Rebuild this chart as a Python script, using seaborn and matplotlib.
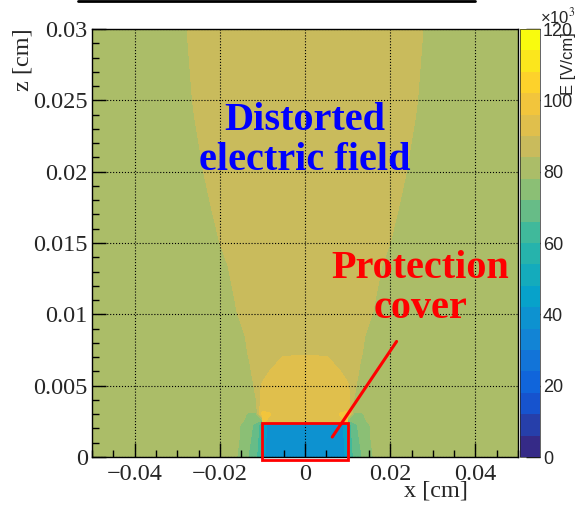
import numpy as np
import matplotlib
matplotlib.use("Agg")
import matplotlib.pyplot as plt
import seaborn as sns
from matplotlib.ticker import MultipleLocator
from matplotlib.patches import Rectangle
from matplotlib.lines import Line2D

# ── Field map (units of 10^3 V/cm) ───────────────────────────
# x positions for the right half (the map is mirror symmetric in x)
x_half = [0, 0.005, 0.0085, 0.0099, 0.0101, 0.0115, 0.013, 0.0155,
          0.018, 0.022, 0.026, 0.03, 0.05]
z_rows = [0, 0.0023, 0.0025, 0.003, 0.0035, 0.0045, 0.0058, 0.0069,
          0.0075, 0.0085, 0.01, 0.015, 0.02, 0.025, 0.03]

E_z0000 = [39, 39, 40, 43, 58, 67, 71, 77.5, 80, 81, 81, 81, 81]
E_z0023 = [40, 40, 41, 44, 62, 70, 74, 78.5, 81, 81, 81, 81, 81]
E_z0025 = [93, 93, 95, 97, 70, 74, 76, 79.5, 81, 81, 81, 81, 81]
E_z0030 = [92, 93, 96.5, 97.5, 97, 77, 77, 80, 81, 81, 81, 81, 81]
E_z0035 = [92, 93, 94, 94, 93.5, 83, 80, 80.5, 81, 81, 81, 81, 81]
E_z0045 = [92, 93, 93, 92.5, 92, 84.5, 81, 81, 81, 81, 81, 81, 81]
E_z0058 = [92, 92, 90.3, 88.5, 88, 86, 83, 81, 81, 81, 81, 81, 81]
E_z0069 = [91, 90.5, 88, 87.5, 87.5, 87, 84.2, 81.5, 81, 81, 81, 81, 81]
E_z0075 = [88.5, 88.5, 87.5, 87.5, 87.5, 87, 84.6, 82, 81, 81, 81, 81, 81]
E_z0085 = [87.5, 87.5, 87.5, 87.5, 87.5, 87, 85.5, 82, 81, 81, 81, 81, 81]
E_z0100 = [87.5, 87.5, 87.5, 87.5, 87.5, 87, 86.5, 84.3, 82, 81, 81, 81, 81]
E_z0150 = [87.5, 87.5, 87.5, 87.5, 87.5, 87.5, 87.5, 86.5, 85, 83, 81.5, 81, 81]
E_z0200 = [87.5, 87.5, 87.5, 87.5, 87.5, 87.5, 87.5, 87.5, 87, 85, 82.8, 81.5, 81]
E_z0250 = [87.5, 87.5, 87.5, 87.5, 87.5, 87.5, 87.5, 87.5, 87.5, 86.5, 84.3, 81.5, 81]
E_z0300 = [87.5, 87.5, 87.5, 87.5, 87.5, 87.5, 87.5, 87.5, 87.5, 87, 85.5, 82, 81]

E_half = np.array([E_z0000, E_z0023, E_z0025, E_z0030, E_z0035, E_z0045,
                   E_z0058, E_z0069, E_z0075, E_z0085, E_z0100, E_z0150,
                   E_z0200, E_z0250, E_z0300])

x_ticks = [-0.04, -0.02, 0, 0.02, 0.04]
x_ticklabels = ['\u22120.04', '\u22120.02', '0', '0.02', '0.04']
z_ticks = [0, 0.005, 0.01, 0.015, 0.02, 0.025, 0.03]
z_ticklabels = ['0', '0.005', '0.01', '0.015', '0.02', '0.025', '0.03']
cb_ticks = [0, 20, 40, 60, 80, 100, 120]

xh = np.array(x_half)
x_full = np.concatenate([-xh[:0:-1], xh])
E_full = np.hstack([E_half[:, :0:-1], E_half])
X, Z = np.meshgrid(x_full, np.array(z_rows))

# ROOT "kBird" palette stops, blended by seaborn into 20 contour colours
bird_stops = [(0.2082, 0.1664, 0.5293), (0.0592, 0.3599, 0.8684),
              (0.0780, 0.5041, 0.8385), (0.0232, 0.6419, 0.7914),
              (0.1802, 0.7178, 0.6425), (0.5301, 0.7492, 0.4662),
              (0.8186, 0.7328, 0.3499), (0.9956, 0.7862, 0.1968),
              (0.9764, 0.9832, 0.0539)]
levels = np.linspace(0, 120, 21)
band_colors = sns.blend_palette(bird_stops, n_colors=20)

sns.set_theme(style="ticks")
plt.rcParams['font.family'] = ['Liberation Serif', 'DejaVu Serif']
plt.rcParams['mathtext.fontset'] = 'stix'
sans = ['Liberation Sans', 'DejaVu Sans']

fig = plt.figure(figsize=(5.79, 5.07), dpi=100)
ax = fig.add_axes([92 / 579, 50 / 507, 426 / 579, 428 / 507])
cax = fig.add_axes([520 / 579, 50 / 507, 20 / 579, 428 / 507])

cs = ax.contourf(X, Z, E_full, levels=levels, colors=band_colors)

ax.set_xlim(-0.05, 0.05)
ax.set_ylim(0, 0.03)
ax.set_xticks(x_ticks)
ax.set_xticklabels(x_ticklabels)
ax.set_yticks(z_ticks)
ax.set_yticklabels(z_ticklabels)
ax.xaxis.set_minor_locator(MultipleLocator(0.005))
ax.yaxis.set_minor_locator(MultipleLocator(0.001))
ax.tick_params(which='major', direction='in', length=10, width=1,
               labelsize=17.5, color='black')
ax.tick_params(axis='x', which='major', pad=5)
ax.tick_params(axis='y', which='major', pad=3)
ax.tick_params(which='minor', direction='in', length=5, width=1, color='black')
ax.set_axisbelow(False)
ax.grid(True, which='major', color='black', linestyle=':', linewidth=0.8)
for s in ax.spines.values():
    s.set_linewidth(1)
    s.set_color('black')

# axis titles, ROOT style (right / top aligned)
fig.text(468 / 579, 1 - 491 / 507, 'x [cm]', fontsize=17.5,
         ha='right', va='center')
fig.text(23 / 579, 1 - 28 / 507, 'z [cm]', fontsize=17.5, rotation=90,
         ha='center', va='top')

# Protection cover box and pointer
ax.add_patch(Rectangle((-0.01, -0.0002), 0.02, 0.00256, fill=False,
                       edgecolor='red', linewidth=2, clip_on=False, zorder=5))
ax.add_line(Line2D([0.0215, 0.0064], [0.0081, 0.0014], color='red',
                   linewidth=2.2, zorder=5))

ax.text(0.0, 0.0222, 'Distorted\nelectric field', color='blue',
        fontsize=29, fontweight='bold', ha='center', va='center',
        linespacing=1.1, zorder=6)
ax.text(0.027, 0.0118, 'Protection\ncover', color='red',
        fontsize=29, fontweight='bold', ha='center', va='center',
        linespacing=1.1, zorder=6)

# Colour bar
cb = fig.colorbar(cs, cax=cax)
cb.set_ticks(cb_ticks)
cb.outline.set_linewidth(0.5)
cax.tick_params(direction='in', length=10, width=1, labelsize=13,
                color='black', pad=2)
for lab in cax.get_yticklabels():
    lab.set_family(sans)
fig.text(540 / 579, 1 - 16 / 507, '\u00d710$^3$', fontsize=12,
         family=sans, ha='left', va='center')
fig.text(569 / 579, 1 - 32 / 507, 'E [V/cm]', fontsize=12, rotation=90,
         family=sans, ha='center', va='top')

# Leftover edge of the title box at the very top
fig.add_artist(Line2D([78 / 579, 475 / 579], [0.998, 0.998],
                      color='black', linewidth=2))

fig.savefig('out.png', dpi=100)
